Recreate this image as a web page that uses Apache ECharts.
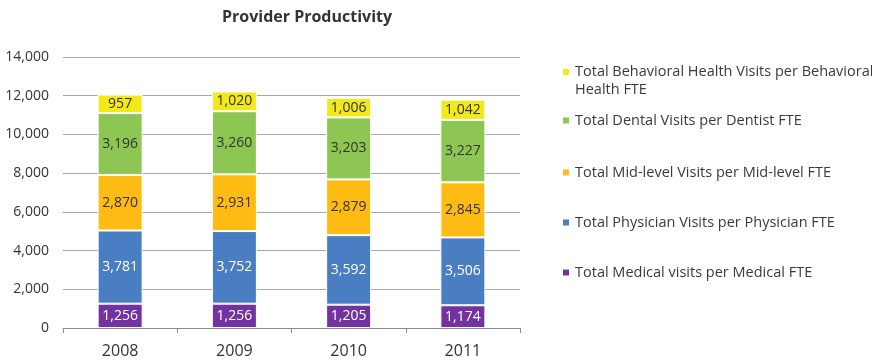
<!DOCTYPE html>
<html>
<head>
<meta charset="utf-8">
<script src="https://cdn.jsdelivr.net/npm/echarts@6/dist/echarts.min.js"></script>
<style>
  html, body { margin: 0; padding: 0; background: #fff; }
  #chart { width: 872px; height: 364px; }
</style>
</head>
<body>
<div id="chart"></div>
<script>
// Years on the category axis
const years = ['2008', '2009', '2010', '2011'];

// Visits per FTE, one array per provider type (stacked bottom to top)
const medical = [1256, 1256, 1205, 1174];
const physician = [3781, 3752, 3592, 3506];
const midLevel = [2870, 2931, 2879, 2845];
const dental = [3196, 3260, 3203, 3227];
const behavioral = [957, 1020, 1006, 1042];

// Value-axis ticks
const yMin = 0;
const yMax = 14000;
const yStep = 2000;

const names = {
  medical: 'Total Medical visits per Medical FTE',
  physician: 'Total Physician Visits per Physician FTE',
  midLevel: 'Total Mid-level Visits per Mid-level FTE',
  dental: 'Total Dental Visits per Dentist FTE',
  behavioral: 'Total Behavioral Health Visits per Behavioral\nHealth FTE'
};

const colors = {
  medical: '#7232a0',
  physician: '#4a7ec2',
  midLevel: '#fdbb13',
  dental: '#8dc653',
  behavioral: '#f3e81a'
};

const fontFamily = '"Open Sans", "Noto Sans", sans-serif';
const fmt = v => v.toLocaleString('en-US');

function barSeries(key, data, labelColor) {
  return {
    name: names[key],
    type: 'bar',
    stack: 'visits',
    data: data,
    barWidth: 45,
    itemStyle: { color: colors[key], borderColor: '#fff', borderWidth: 1 },
    label: {
      show: true,
      position: 'inside',
      color: labelColor,
      fontFamily: fontFamily,
      fontSize: 14,
      formatter: p => fmt(p.value)
    },
    emphasis: { disabled: true }
  };
}

// One legend block per series so the vertical spacing stays even.
// The two-line entry uses a marker whose square sits at the top of a taller
// box, so it lines up with the first line of text.
const legendOrder = ['behavioral', 'dental', 'midLevel', 'physician', 'medical'];
const legendTops = [58, 103, 155, 205, 255];
const legends = legendOrder.map((key, i) => {
  const twoLine = i === 0;
  return {
    data: [names[key]],
    left: 556,
    top: legendTops[i],
    orient: 'vertical',
    icon: twoLine ? 'path://M0,0H8V8H0Z M0,26' : 'rect',
    itemWidth: 8,
    itemHeight: twoLine ? 26 : 8,
    itemGap: 6,
    selectedMode: false,
    textStyle: {
      fontFamily: fontFamily,
      fontSize: 14.5,
      color: '#3a3a3a',
      lineHeight: 18,
      padding: twoLine ? 0 : [7, 0, 0, 0]
    }
  };
});

const chart = echarts.init(document.getElementById('chart'), null, { renderer: 'canvas' });
chart.setOption({
  animation: false,
  backgroundColor: '#ffffff',
  title: {
    text: 'Provider Productivity',
    left: 302,
    textAlign: 'center',
    top: 4,
    textStyle: { fontFamily: fontFamily, fontSize: 16, fontWeight: 'bold', color: '#333' }
  },
  legend: legends,
  grid: { left: 63, right: 352, top: 57, bottom: 36, containLabel: false },
  xAxis: {
    type: 'category',
    data: years,
    axisLine: { lineStyle: { color: '#8c8c8c', width: 1 } },
    axisTick: { show: true, length: 5, lineStyle: { color: '#8c8c8c' } },
    axisLabel: { color: '#333', fontFamily: fontFamily, fontSize: 16, margin: 15 }
  },
  yAxis: {
    type: 'value',
    min: yMin,
    max: yMax,
    interval: yStep,
    axisLine: { show: false },
    axisTick: { show: false },
    splitLine: { lineStyle: { color: '#a8a8a8', width: 1 } },
    axisLabel: {
      color: '#333',
      fontFamily: fontFamily,
      fontSize: 14,
      margin: 14,
      formatter: v => fmt(v)
    }
  },
  series: [
    barSeries('medical', medical, '#ffffff'),
    barSeries('physician', physician, '#ffffff'),
    barSeries('midLevel', midLevel, '#333333'),
    barSeries('dental', dental, '#333333'),
    barSeries('behavioral', behavioral, '#333333')
  ]
});
</script>
</body>
</html>
